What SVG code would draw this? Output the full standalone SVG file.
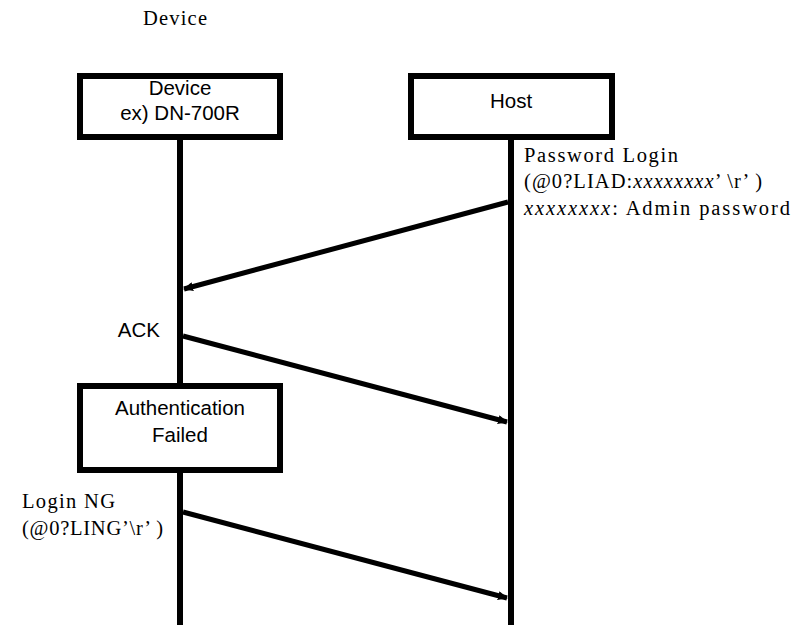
<svg xmlns="http://www.w3.org/2000/svg" width="805" height="625" viewBox="0 0 805 625">
<defs>
<style>
.box{fill:#fff;stroke:#000;stroke-width:6}
.life{stroke:#000;stroke-width:6;fill:none}
.msg{stroke:#000;stroke-width:5;fill:none}
.sans{font-family:"Liberation Sans",Arial,sans-serif;font-size:20.5px;fill:#000}
.serif{font-family:"Liberation Serif","Times New Roman",serif;font-size:20.5px;fill:#000}
</style>
<marker id="ah" markerWidth="10" markerHeight="9" refX="9" refY="4.5" orient="auto" markerUnits="userSpaceOnUse">
<path d="M0,0 L10,4.5 L0,9 z" fill="#000"/>
</marker>
</defs>
<rect width="805" height="625" fill="#fff"/>
<text class="serif" x="143" y="25" textLength="64" lengthAdjust="spacing">Device</text>
<g id="lifelines">
<line class="life" x1="180" y1="140" x2="180" y2="383"/>
<line class="life" x1="180" y1="473" x2="180" y2="625"/>
<line class="life" x1="511" y1="140" x2="511" y2="625"/>
</g>
<g id="device">
<rect class="box" x="80" y="76" width="200" height="61"/>
<text class="sans" x="180" y="95" text-anchor="middle">Device</text>
<text class="sans" x="180" y="120" text-anchor="middle">ex) DN-700R</text>
</g>
<g id="host">
<rect class="box" x="411" y="76" width="201" height="61"/>
<text class="sans" x="511" y="108" text-anchor="middle">Host</text>
</g>
<g id="auth-failed">
<rect class="box" x="80" y="386" width="200" height="84"/>
<text class="sans" x="180" y="415" text-anchor="middle">Authentication</text>
<text class="sans" x="180" y="442" text-anchor="middle">Failed</text>
</g>
<g id="connectors">
<line class="msg" x1="508" y1="202" x2="184" y2="289" marker-end="url(#ah)"/>
<line class="msg" x1="183" y1="336" x2="507" y2="422" marker-end="url(#ah)"/>
<line class="msg" x1="183" y1="512" x2="507" y2="598" marker-end="url(#ah)"/>
</g>
<g id="labels">
<text class="serif" x="524" y="162" textLength="154" lengthAdjust="spacing">Password Login</text>
<text class="serif" x="524" y="188" textLength="238" lengthAdjust="spacing">(@0?LIAD:<tspan font-style="italic">xxxxxxxx</tspan>’ \r’ )</text>
<text class="serif" x="524" y="215" textLength="266" lengthAdjust="spacing"><tspan font-style="italic">xxxxxxxx</tspan>: Admin password</text>
<text class="sans" x="160" y="337" text-anchor="end">ACK</text>
<text class="serif" x="22" y="508" textLength="93" lengthAdjust="spacing">Login NG</text>
<text class="serif" x="22" y="535" textLength="141" lengthAdjust="spacing">(@0?LING’\r’ )</text>
</g>
</svg>
